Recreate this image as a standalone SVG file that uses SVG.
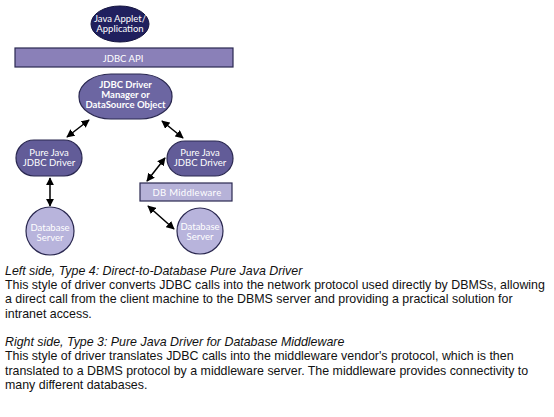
<svg xmlns="http://www.w3.org/2000/svg" width="554" height="417" viewBox="0 0 554 417">
<style>
.lbl{font-family:Lato,"Open Sans","DejaVu Sans",sans-serif;fill:#ffffff;text-anchor:middle;font-size:9.5px}
.b{font-weight:bold}
.body{font-family:"Liberation Sans",Arial,sans-serif;font-size:12.4px;fill:#111111}
.it{font-style:italic}
.edge{stroke:#000;stroke-width:1.5;fill:none;marker-start:url(#ah);marker-end:url(#ah)}
.outl{stroke:#2a2850;stroke-width:1.2}
</style>
<defs>
<marker id="ah" viewBox="0 0 10 10" refX="9" refY="5" markerWidth="5.5" markerHeight="5.5" orient="auto-start-reverse" markerUnits="strokeWidth">
<path d="M0,0 L10,5 L0,10 z" fill="#000"/>
</marker>
</defs>
<rect width="554" height="417" fill="#ffffff"/>

<g id="connectors">
<line class="edge" x1="89" y1="120" x2="67" y2="137"/>
<line class="edge" x1="162" y1="121" x2="183" y2="138"/>
<line class="edge" x1="50" y1="178" x2="50" y2="206"/>
<line class="edge" x1="165" y1="158" x2="147" y2="181"/>
<line class="edge" x1="148" y1="206" x2="174" y2="229"/>
</g>

<g id="java-applet">
<ellipse cx="120" cy="24" rx="29" ry="18" fill="#20205e" stroke="#15153f" stroke-width="1"/>
<text class="lbl" x="120" y="22">Java Applet/</text>
<text class="lbl" x="120" y="32">Application</text>
</g>

<g id="jdbc-api">
<rect x="15" y="48" width="218" height="19" fill="#8a80b8" class="outl"/>
<text class="lbl" x="123" y="62" font-size="10.5">JDBC API</text>
</g>

<g id="driver-manager">
<rect x="79" y="74" width="93" height="45" rx="32" ry="22" fill="#6c66a2" class="outl"/>
<text class="lbl b" x="125.5" y="88">JDBC Driver</text>
<text class="lbl b" x="125.5" y="98">Manager or</text>
<text class="lbl b" x="125.5" y="108">DataSource Object</text>
</g>

<g id="left-driver">
<rect x="16" y="140" width="66" height="36" rx="18" ry="18" fill="#625c98" class="outl"/>
<text class="lbl" x="49" y="156">Pure Java</text>
<text class="lbl" x="49" y="166">JDBC Driver</text>
</g>

<g id="right-driver">
<rect x="167" y="141" width="66" height="35" rx="18" ry="17.5" fill="#625c98" class="outl"/>
<text class="lbl" x="200" y="156">Pure Java</text>
<text class="lbl" x="200" y="166">JDBC Driver</text>
</g>

<g id="db-middleware">
<rect x="140" y="183" width="92" height="18" fill="#b6b2d8" class="outl"/>
<text class="lbl" x="187" y="196" font-size="10.5" letter-spacing="0.3">DB Middleware</text>
</g>

<g id="left-db">
<circle cx="50" cy="231" r="24" fill="#b8b4dc" class="outl"/>
<text class="lbl" x="50" y="231">Database</text>
<text class="lbl" x="50" y="241">Server</text>
</g>

<g id="right-db">
<circle cx="200" cy="231" r="23" fill="#b8b4dc" class="outl"/>
<text class="lbl" x="200" y="230">Database</text>
<text class="lbl" x="200" y="240">Server</text>
</g>

<g id="description">
<text class="body it" x="5" y="275">Left side, Type 4: Direct-to-Database Pure Java Driver</text>
<text class="body" x="5" y="289">This style of driver converts JDBC calls into the network protocol used directly by DBMSs, allowing</text>
<text class="body" x="5" y="303">a direct call from the client machine to the DBMS server and providing a practical solution for</text>
<text class="body" x="5" y="317.5">intranet access.</text>
<text class="body it" x="5" y="346">Right side, Type 3: Pure Java Driver for Database Middleware</text>
<text class="body" x="5" y="360">This style of driver translates JDBC calls into the middleware vendor's protocol, which is then</text>
<text class="body" x="5" y="374.5">translated to a DBMS protocol by a middleware server. The middleware provides connectivity to</text>
<text class="body" x="5" y="388.5">many different databases.</text>
</g>
</svg>
